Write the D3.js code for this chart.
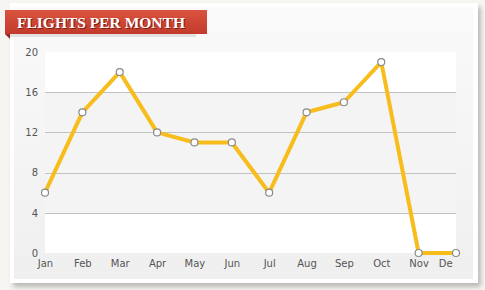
<!DOCTYPE html>
<html>
<head>
<meta charset="utf-8">
<script src="https://cdn.jsdelivr.net/npm/d3@7"></script>
<style>
  body { margin: 0; background: #f6f5f1; }
  svg { display: block; }
</style>
</head>
<body>
<svg id="chart" width="485" height="290"></svg>
<script>
// chart data
const months = ["Jan", "Feb", "Mar", "Apr", "May", "Jun", "Jul", "Aug", "Sep", "Oct", "Nov", "Dec"];
const flights = [6, 14, 18, 12, 11, 11, 6, 14, 15, 19, 0, 0];
const yTicks = [0, 4, 8, 12, 16, 20];
const bands = [[4, 16]];
const title = "FLIGHTS PER MONTH";

const svg = d3.select("#chart");
const defs = svg.append("defs");

const panelGrad = defs.append("linearGradient").attr("id", "panelGrad").attr("x1", 0).attr("y1", 0).attr("x2", 0).attr("y2", 1);
panelGrad.append("stop").attr("offset", "0%").attr("stop-color", "#fafafa");
panelGrad.append("stop").attr("offset", "100%").attr("stop-color", "#efefef");

const ribbonGrad = defs.append("linearGradient").attr("id", "ribbonGrad").attr("x1", 0).attr("y1", 0).attr("x2", 0).attr("y2", 1);
ribbonGrad.append("stop").attr("offset", "0%").attr("stop-color", "#d9543f");
ribbonGrad.append("stop").attr("offset", "100%").attr("stop-color", "#c23a2b");

const shadow = defs.append("filter").attr("id", "shadow").attr("x", "-5%").attr("y", "-5%").attr("width", "115%").attr("height", "120%");
shadow.append("feGaussianBlur").attr("in", "SourceAlpha").attr("stdDeviation", 2.5);
shadow.append("feOffset").attr("dx", 3).attr("dy", 4).attr("result", "blur");
shadow.append("feComponentTransfer").append("feFuncA").attr("type", "linear").attr("slope", 0.25);
const merge = shadow.append("feMerge");
merge.append("feMergeNode");
merge.append("feMergeNode").attr("in", "SourceGraphic");

// card
svg.append("rect").attr("x", 10).attr("y", 3).attr("width", 468).attr("height", 280)
  .attr("fill", "#ffffff").attr("filter", "url(#shadow)");
svg.append("rect").attr("x", 14).attr("y", 7).attr("width", 459).attr("height", 272)
  .attr("fill", "url(#panelGrad)");

const margin = { left: 45, top: 52, right: 29, bottom: 37 };
const width = 485 - margin.left - margin.right;
const height = 290 - margin.top - margin.bottom;

const x = d3.scalePoint().domain(months).range([0, width]);
const y = d3.scaleLinear().domain([0, 20]).range([height, 0]);

const g = svg.append("g").attr("transform", `translate(${margin.left},${margin.top})`);

// plot background with bands
g.append("rect").attr("width", width).attr("height", height).attr("fill", "#ffffff");
g.selectAll(".band").data(bands).enter().append("rect")
  .attr("class", "band")
  .attr("x", 0).attr("width", width)
  .attr("y", (d) => y(d[1]))
  .attr("height", (d) => y(d[0]) - y(d[1]))
  .attr("fill", "#f4f4f4");

// gridlines
g.selectAll(".grid").data(yTicks.filter((t) => t > 0 && t < 20)).enter().append("line")
  .attr("class", "grid")
  .attr("x1", 0).attr("x2", width)
  .attr("y1", (d) => Math.round(y(d)) + 0.5).attr("y2", (d) => Math.round(y(d)) + 0.5)
  .attr("stroke", "#c2c2c2").attr("stroke-width", 1);

// y axis labels
const yAxis = g.append("g").call(d3.axisLeft(y).tickValues(yTicks).tickSize(0).tickPadding(7));
yAxis.select(".domain").remove();
yAxis.selectAll("text").attr("font-family", "DejaVu Sans, Verdana, sans-serif").attr("font-size", 10).attr("fill", "#555");

// x axis labels (last one gets cut off at the card edge, like the original)
defs.append("clipPath").attr("id", "xclip").append("rect").attr("x", -20).attr("y", 0).attr("width", width - 3 + 20).attr("height", 30);
const xAxis = g.append("g").attr("transform", `translate(0,${height})`).attr("clip-path", "url(#xclip)")
  .call(d3.axisBottom(x).tickSize(0).tickPadding(7));
xAxis.select(".domain").remove();
xAxis.selectAll("text").attr("font-family", "DejaVu Sans, Verdana, sans-serif").attr("font-size", 10).attr("fill", "#555")
  .attr("dx", (d, i) => (i === months.length - 1 ? -8 : 0));

// line
const line = d3.line().x((d, i) => x(months[i])).y((d) => y(d));
g.append("path").datum(flights)
  .attr("d", line)
  .attr("fill", "none")
  .attr("stroke", "#f7bd1d")
  .attr("stroke-width", 4)
  .attr("stroke-linejoin", "round");

g.selectAll(".dot").data(flights).enter().append("circle")
  .attr("class", "dot")
  .attr("cx", (d, i) => x(months[i]))
  .attr("cy", (d) => y(d))
  .attr("r", 3.5)
  .attr("fill", "#fff")
  .attr("stroke", "#8a8a8a")
  .attr("stroke-width", 1.2);

// title ribbon
svg.append("rect").attr("x", 10).attr("y", 33).attr("width", 186).attr("height", 4).attr("fill", "#e2e2e2");
svg.append("path").attr("d", "M5,34 L10,34 L10,39 Z").attr("fill", "#8e2a1e");
svg.append("rect").attr("x", 5).attr("y", 10).attr("width", 202).attr("height", 24).attr("fill", "url(#ribbonGrad)");
svg.append("text").attr("x", 17).attr("y", 28)
  .attr("font-family", "'Liberation Serif', 'Times New Roman', serif")
  .attr("font-weight", "bold").attr("font-size", 15.5)
  .attr("fill", "#fff")
  .style("text-shadow", "1px 1px 0 #7a1f14")
  .text(title);
</script>
</body>
</html>
